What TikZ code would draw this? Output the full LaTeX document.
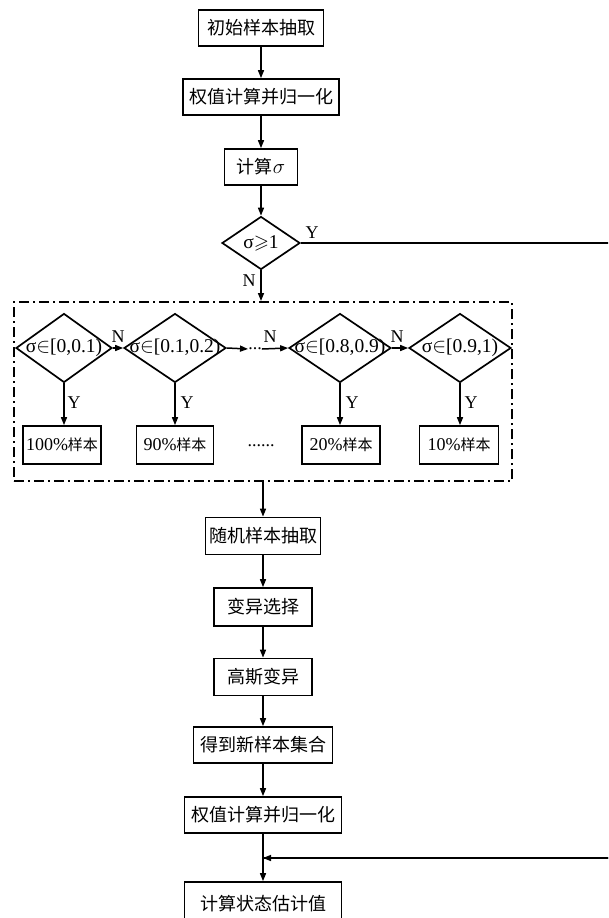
\documentclass[tikz,border=0pt]{standalone}
\usepackage{amssymb}
\usepackage{fontspec}
\setmainfont{Liberation Serif}
\newfontfamily\cjk{Noto Sans CJK SC}
\usetikzlibrary{shapes.geometric,arrows.meta}
\newcommand\fsz{\fontsize{18}{21}\selectfont}
\newcommand\fszd{\fontsize{19.5}{22}\selectfont}
\newcommand\cjks{\cjk\fontsize{15}{18}\selectfont}
\tikzset{
  box/.style={draw, line width=1.7pt, inner sep=0pt, minimum height=36pt, font=\fsz\cjk},
  rowbox/.style={draw, line width=1.7pt, inner sep=0pt, minimum height=38pt, font=\fsz},
  dia/.style={draw, diamond, line width=1.7pt, inner sep=0pt, minimum height=69pt},
  txt/.style={inner sep=0pt, font=\fsz},
  dtxt/.style={inner sep=0pt, font=\fszd},
  arr/.style={line width=1.5pt, -{Triangle[length=8pt,width=6pt]}},
  plain/.style={line width=1.5pt},
  frame/.style={draw, line width=2pt, dash pattern=on 10pt off 4pt on 2pt off 4pt,
    minimum width=498pt, minimum height=179pt, inner sep=0pt}
}
\begin{document}
\begin{tikzpicture}[x=1pt,y=-1pt]
\useasboundingbox (0,0) rectangle (608,918);
\clip (0,0) rectangle (608,918);

% top column
\node[box, minimum width=125pt] (n1) at (261,28) {初始样本抽取};
\node[box, minimum width=156pt] (n2) at (261,97) {权值计算并归一化};
\node[box, minimum width=73pt] (n3) at (261,167) {计算{\rmfamily\fszd$\sigma$}};
\node[dia, minimum width=78pt, minimum height=53pt] (d0) at (261,243) {};
\node[dtxt] (t0) at (261,243) {σ$\geqslant$1};
\node[txt] (y0) at (312,233) {Y};
\node[txt] (no) at (249,281) {N};

% dash-dot frame
\node[frame] (fr) at (263,391.5) {};

% row of decisions
\node[dia, minimum width=96pt] (d1) at (64,348) {};
\node[dia, minimum width=102pt] (d2) at (175,348) {};
\node[dia, minimum width=102pt] (d3) at (340,348) {};
\node[dia, minimum width=102pt] (d4) at (460,348) {};
\node[dtxt] (t1) at (d1) {σ$\in$[0,0.1)};
\node[dtxt] (t2) at (d2) {σ$\in$[0.1,0.2)};
\node[dtxt] (t3) at (d3) {σ$\in$[0.8,0.9)};
\node[dtxt] (t4) at (d4) {σ$\in$[0.9,1)};
\node[txt] (el) at (255,349) {...};
\node[txt] (n12) at (118,337) {N};
\node[txt] (n23) at (270,337) {N};
\node[txt] (n34) at (397,337) {N};

\node[rowbox, minimum width=78pt] (b1) at (62,445) {100\%{\cjks 样本}};
\node[rowbox, minimum width=77pt] (b2) at (175,445) {90\%{\cjks 样本}};
\node[txt] (bd) at (261,446) {......};
\node[rowbox, minimum width=78pt] (b3) at (341,445) {20\%{\cjks 样本}};
\node[rowbox, minimum width=79pt] (b4) at (459,445) {10\%{\cjks 样本}};
\node[txt] (y1) at (74,403) {Y};
\node[txt] (y2) at (187,403) {Y};
\node[txt] (y3) at (352,403) {Y};
\node[txt] (y4) at (471,403) {Y};

% bottom column
\node[box, minimum width=115pt, minimum height=37pt] (r1) at (263,536) {随机样本抽取};
\node[box, minimum width=98pt, minimum height=38pt] (r2) at (263,607) {变异选择};
\node[box, minimum width=98pt, minimum height=37pt] (r3) at (263,677) {高斯变异};
\node[box, minimum width=139pt] (r4) at (263,745) {得到新样本集合};
\node[box, minimum width=157pt] (r5) at (263,815) {权值计算并归一化};
\node[box, minimum width=157pt, minimum height=44pt] (r6) at (263,904) {计算状态估计值};
\coordinate (ret) at (263,858);
\coordinate (rx) at (625,0);

% connectors
\draw[arr] (n1) -- (n2);
\draw[arr] (n2) -- (n3);
\draw[arr] (n3) -- (d0);
\draw[arr] (d0.south) -- (d0.south |- fr.north);
\draw[plain] (d0.east) -- (d0.east -| rx) |- (ret);
\draw[arr] (rx |- ret) -- (ret);

\draw[arr] (d1.east) -- (d2.west);
\draw[arr] (d2.east) -- (el.west);
\draw[arr] (el.east) -- (d3.west);
\draw[arr] (d3.east) -- (d4.west);
\draw[arr] (d1.south) -- (d1.south |- b1.north);
\draw[arr] (d2.south) -- (b2.north);
\draw[arr] (d3.south) -- (d3.south |- b3.north);
\draw[arr] (d4.south) -- (d4.south |- b4.north);

\draw[arr] (fr.south) -- (r1.north);
\draw[arr] (r1) -- (r2);
\draw[arr] (r2) -- (r3);
\draw[arr] (r3) -- (r4);
\draw[arr] (r4) -- (r5);
\draw[arr] (r5) -- (r6);
\end{tikzpicture}
\end{document}
